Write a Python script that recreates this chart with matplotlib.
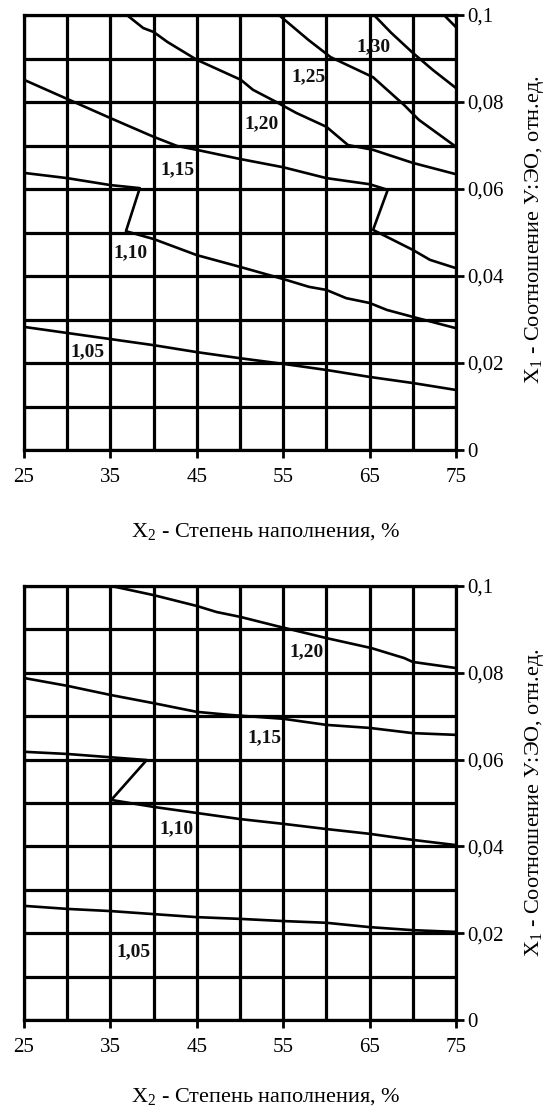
import matplotlib
matplotlib.use("Agg")
import matplotlib.pyplot as plt
from matplotlib.ticker import MultipleLocator, FixedLocator

plt.rcParams['font.family'] = ['Liberation Serif', 'DejaVu Serif']
plt.rcParams['mathtext.default'] = 'regular'

# ---------------- data ----------------
x_ticks = [25, 35, 45, 55, 65, 75]
x_tick_labels = ["25", "35", "45", "55", "65", "75"]
y_ticks = [0, 0.02, 0.04, 0.06, 0.08, 0.1]
y_tick_labels = ["0", "0,02", "0,04", "0,06", "0,08", "0,1"]
x_grid = [25, 30, 35, 40, 45, 50, 55, 60, 65, 70, 75]
y_grid = [0, 0.01, 0.02, 0.03, 0.04, 0.05, 0.06, 0.07, 0.08, 0.09, 0.1]

x_label = "X$_2$ - Степень наполнения, %"
y_label = "X$_1$ - Соотношение У:ЭО, отн.ед."

# top chart iso-lines
top_105_x = [25, 30, 35, 40, 45, 50, 55, 60, 65, 70, 75]
top_105_y = [0.0283, 0.0269, 0.0255, 0.0241, 0.0225, 0.0211, 0.0198, 0.0184, 0.0168, 0.0154, 0.0138]
top_110_x = [25, 30, 35, 38.4, 36.8, 40, 45, 50, 55, 58, 60, 62.3, 65, 67, 70, 75]
top_110_y = [0.0637, 0.0625, 0.0609, 0.0602, 0.0503, 0.0485, 0.0448, 0.0421, 0.0393, 0.0375, 0.0368,
             0.0349, 0.0338, 0.0322, 0.0306, 0.0280]
top_115_x = [25, 30, 35, 40, 42.7, 45, 50, 55, 60, 65, 67.1, 65.4, 70, 72, 75]
top_115_y = [0.0851, 0.0807, 0.0763, 0.0720, 0.0699, 0.0690, 0.0669, 0.0650, 0.0625, 0.0611, 0.0598,
             0.0506, 0.0460, 0.0437, 0.0418]
top_120_x = [36.9, 38.8, 40, 41.6, 45, 50.1, 51.5, 54.2, 56.5, 60, 62.5, 65.4, 70, 75]
top_120_y = [0.1, 0.0970, 0.0961, 0.0938, 0.0897, 0.0851, 0.0828, 0.0800, 0.0775, 0.0743, 0.0701,
             0.0690, 0.0660, 0.0634]
top_125_x = [54.5, 57.9, 60.5, 65.4, 69, 70.7, 75]
top_125_y = [0.1, 0.0943, 0.0903, 0.0857, 0.0793, 0.0759, 0.0697]
top_130_x = [65.5, 67.5, 70, 72.3, 75]
top_130_y = [0.1, 0.0959, 0.0913, 0.0874, 0.0832]
top_135_x = [73.6, 75]
top_135_y = [0.1, 0.0972]

top_lines = [(top_105_x, top_105_y), (top_110_x, top_110_y), (top_115_x, top_115_y),
             (top_120_x, top_120_y), (top_125_x, top_125_y), (top_130_x, top_130_y),
             (top_135_x, top_135_y)]
top_labels = ["1,05", "1,10", "1,15", "1,20", "1,25", "1,30"]
top_label_x = [32.4, 37.3, 42.8, 52.5, 57.9, 65.5]
top_label_y = [0.0225, 0.0453, 0.0644, 0.0749, 0.0857, 0.0926]

# bottom chart iso-lines
bot_105_x = [25, 30, 35, 40, 45, 50, 55, 60, 65, 70, 75]
bot_105_y = [0.0263, 0.0256, 0.0251, 0.0244, 0.0237, 0.0233, 0.0228, 0.0224, 0.0214, 0.0207, 0.0203]
bot_110_x = [25, 30, 39.2, 35.1, 40, 45, 50, 55, 60, 65, 70, 75]
bot_110_y = [0.0618, 0.0613, 0.0599, 0.0507, 0.0491, 0.0477, 0.0463, 0.0452, 0.0440, 0.0429, 0.0415, 0.0403]
bot_115_x = [25, 30, 35, 40, 45, 48.8, 55, 60, 65, 70, 75]
bot_115_y = [0.0788, 0.0770, 0.0749, 0.0730, 0.0710, 0.0703, 0.0694, 0.0680, 0.0673, 0.0661, 0.0657]
bot_120_x = [35.1, 40, 45, 47.3, 50, 54.2, 60, 65.2, 69, 70, 75]
bot_120_y = [0.1, 0.0979, 0.0954, 0.0940, 0.0929, 0.0908, 0.0880, 0.0857, 0.0834, 0.0825, 0.0811]

bot_lines = [(bot_105_x, bot_105_y), (bot_110_x, bot_110_y), (bot_115_x, bot_115_y),
             (bot_120_x, bot_120_y)]
bot_labels = ["1,05", "1,10", "1,15", "1,20"]
bot_label_x = [37.7, 42.7, 52.8, 57.75]
bot_label_y = [0.0157, 0.044, 0.065, 0.0848]

# ---------------- drawing ----------------
W, H = 552, 1110
fig = plt.figure(figsize=(W / 100, H / 100), dpi=100)
fig.patch.set_facecolor('white')

ax1 = fig.add_axes([24 / W, 1 - 450 / H, 432 / W, 435 / H])
ax2 = fig.add_axes([24 / W, 1 - 1020 / H, 432 / W, 434 / H])

GRID_LW = 2.3
LINE_LW = 1.9


def setup(ax, lines, labels, lx, ly):
    ax.set_xlim(25, 75)
    ax.set_ylim(0, 0.1)
    for xv in x_grid:
        ax.axvline(xv, color='black', lw=GRID_LW, zorder=1)
    for yv in y_grid:
        ax.axhline(yv, color='black', lw=GRID_LW, zorder=1)
    for xs, ys in lines:
        ax.plot(xs, ys, color='black', lw=LINE_LW, solid_joinstyle='round', zorder=2)
    for t, xv, yv in zip(labels, lx, ly):
        ax.text(xv, yv, t, ha='center', va='center', fontsize=14, fontweight='bold',
                color='#111111', zorder=3)
    ax.yaxis.tick_right()
    ax.xaxis.set_major_locator(FixedLocator(x_ticks))
    ax.set_xticklabels(x_tick_labels)
    ax.yaxis.set_major_locator(FixedLocator(y_ticks))
    ax.set_yticklabels(y_tick_labels)
    ax.tick_params(axis='x', direction='out', length=6, width=2, pad=7, labelsize=15)
    ax.tick_params(axis='y', direction='out', length=6, width=2, pad=2, labelsize=15,
                   left=False, right=True)
    for s in ax.spines.values():
        s.set_linewidth(GRID_LW)
        s.set_color('black')


setup(ax1, top_lines, top_labels, top_label_x, top_label_y)
setup(ax2, bot_lines, bot_labels, bot_label_x, bot_label_y)

for ax, ycen_px, xl_px in [(ax1, 230, 532), (ax2, 803, 1097)]:
    fig.text(266 / W, 1 - xl_px / H, x_label, ha='center', va='center', fontsize=16)
    fig.text(535 / W, 1 - ycen_px / H, y_label, ha='center', va='center', fontsize=16,
             rotation=90)

fig.savefig("out.png", dpi=100, facecolor='white')
